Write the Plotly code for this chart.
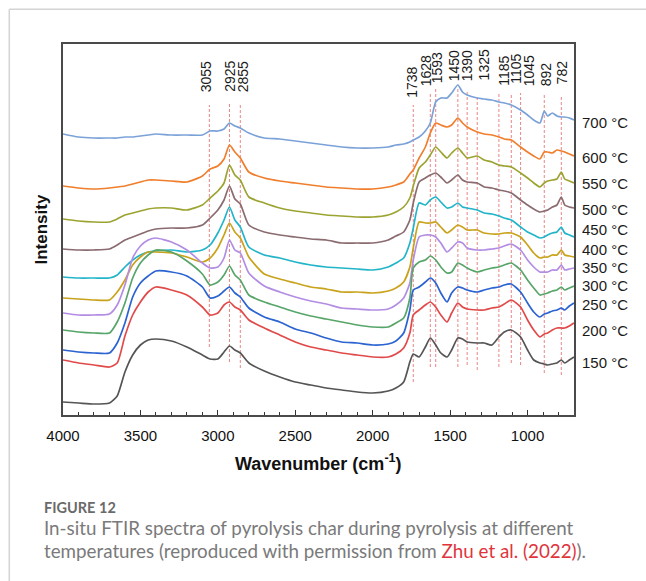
import plotly.graph_objects as go

# ---------------- data ----------------
wavenumber = [4000, 3900, 3800, 3700, 3650, 3600, 3550, 3500, 3450, 3400,
              3300, 3200, 3100, 3050, 3000, 2960, 2925, 2890, 2855, 2800,
              2700, 2600, 2500, 2400, 2300, 2200, 2100, 2000, 1900, 1850,
              1800, 1760, 1738, 1700, 1660, 1628, 1593, 1560, 1520, 1490,
              1450, 1420, 1390, 1325, 1280, 1230, 1185, 1150, 1105, 1045,
              1000, 960, 920, 892, 870, 840, 810, 782, 760, 730, 700]

temperature_labels = ["700 °C", "600 °C", "550 °C", "500 °C", "450 °C", "400 °C",
                      "350 °C", "300 °C", "250 °C", "200 °C", "150 °C"]

int_700 = [281, 278, 277, 277, 277, 278, 278, 279, 280, 281,
           280, 280, 280, 284, 284, 286, 292, 289, 287, 282,
           277, 276, 274, 272, 270, 268, 267, 267, 268, 270,
           271, 273, 275, 278, 284, 292, 313, 317, 317, 322,
           330, 323, 320, 317, 316, 315, 313, 312, 310, 305,
           300, 295, 292, 304, 299, 302, 299, 298, 298, 297, 295]
int_600 = [229, 227, 226, 227, 228, 229, 231, 233, 235, 235,
           234, 233, 239, 246, 249, 256, 270, 263, 257, 243,
           237, 234, 232, 230, 228, 227, 226, 226, 228, 230,
           233, 241, 245, 257, 268, 282, 292, 290, 288, 290,
           297, 292, 288, 283, 281, 280, 278, 276, 275, 268,
           263, 259, 256, 263, 263, 262, 265, 264, 263, 261, 259]
int_550 = [196, 194, 193, 193, 196, 200, 202, 204, 206, 207,
           207, 205, 210, 217, 224, 232, 250, 240, 235, 218,
           212, 207, 204, 202, 200, 199, 198, 198, 200, 203,
           208, 217, 229, 247, 253, 260, 268, 263, 257, 262,
           267, 262, 257, 259, 255, 253, 250, 249, 248, 242,
           237, 232, 228, 232, 234, 235, 236, 243, 236, 234, 232]
int_500 = [166, 165, 165, 166, 170, 175, 178, 181, 184, 186,
           187, 187, 190, 197, 205, 215, 229, 216, 211, 190,
           183, 180, 178, 176, 175, 172, 172, 172, 175, 179,
           183, 195, 212, 233, 237, 240, 242, 238, 232, 235,
           240, 235, 233, 232, 228, 227, 225, 224, 222, 215,
           210, 206, 203, 204, 205, 208, 210, 218, 210, 208, 207]
int_450 = [138, 137, 137, 137, 140, 148, 155, 160, 163, 164,
           165, 163, 165, 170, 182, 195, 208, 195, 188, 168,
           160, 157, 153, 150, 148, 147, 146, 145, 148, 152,
           157, 172, 187, 212, 210, 215, 218, 213, 207, 208,
           212, 208, 207, 205, 202, 201, 199, 197, 195, 188,
           183, 180, 177, 178, 180, 182, 183, 188, 182, 180, 178]
int_400 = [117, 116, 115, 115, 123, 135, 150, 158, 163, 163,
           162, 158, 153, 157, 167, 180, 192, 183, 177, 158,
           141, 136, 132, 128, 126, 123, 123, 122, 124, 127,
           133, 148, 167, 193, 192, 192, 193, 188, 182, 185,
           190, 188, 185, 185, 182, 181, 181, 182, 182, 178,
           170, 162, 157, 158, 158, 160, 160, 165, 160, 159, 158]
int_350 = [102, 100, 100, 101, 110, 130, 157, 169, 175, 177,
           173, 165, 152, 147, 148, 157, 175, 165, 162, 142,
           129, 123, 118, 114, 111, 107, 106, 105, 106, 110,
           117, 132, 155, 178, 180, 180, 178, 172, 163, 167,
           173, 172, 167, 165, 165, 166, 167, 169, 171, 165,
           155, 148, 143, 143, 143, 145, 145, 150, 145, 146, 147]
int_300 = [85, 83, 82, 82, 93, 112, 137, 152, 160, 165,
           163, 154, 141, 130, 133, 140, 149, 140, 135, 120,
           113, 108, 103, 99, 96, 93, 90, 88, 88, 92,
           97, 117, 147, 153, 155, 159, 155, 148, 142, 143,
           152, 150, 147, 143, 145, 147, 148, 150, 152, 145,
           135, 127, 120, 121, 122, 124, 125, 128, 125, 127, 129]
int_250 = [65, 63, 62, 62, 72, 92, 118, 132, 139, 144,
           143, 139, 128, 117, 119, 124, 128, 122, 118, 107,
           98, 93, 86, 82, 77, 73, 72, 70, 71, 74,
           82, 105, 125, 128, 133, 137, 132, 122, 113, 122,
           128, 127, 125, 123, 125, 127, 128, 130, 131, 123,
           112, 103, 98, 101, 102, 104, 105, 107, 105, 109, 112]
int_200 = [55, 52, 50, 48, 52, 79, 100, 113, 123, 128,
           125, 120, 108, 100, 102, 110, 113, 108, 105, 95,
           87, 80, 73, 68, 65, 62, 60, 58, 58, 61,
           67, 82, 100, 105, 110, 113, 108, 100, 93, 102,
           112, 108, 106, 105, 105, 107, 108, 111, 115, 108,
           95, 85, 78, 81, 82, 85, 87, 87, 87, 89, 92]
int_150 = [13, 12, 11, 12, 19, 43, 60, 70, 75, 76,
           74, 68, 60, 56, 56, 63, 69, 65, 62, 52,
           44, 38, 33, 30, 27, 25, 23, 22, 24, 27,
           33, 53, 61, 58, 68, 77, 70, 62, 58, 65,
           77, 76, 73, 72, 72, 70, 78, 83, 85, 78,
           65, 55, 52, 51, 50, 51, 52, 55, 52, 55, 58]

peak_wavenumbers = [3055, 2925, 2855, 1738, 1628, 1593, 1450, 1390, 1325, 1185, 1105, 1045, 892, 782]
peak_labels = ["3055", "2925", "2855", "1738", "1628", "1593", "1450", "1390",
               "1325", "1185", "1105", "1045", "892", "782"]

# ---------------- styling / placement (not data) ----------------
series = [int_700, int_600, int_550, int_500, int_450, int_400,
          int_350, int_300, int_250, int_200, int_150]
colors = ["#7ba2d8", "#f07e2c", "#9ca431", "#8a6b70", "#22b5c9", "#c9a31c",
          "#b28de3", "#58a56a", "#2b63d1", "#e14a4a", "#555555"]
temp_label_y = [293, 258, 232, 206, 186, 166, 148, 130, 111, 85, 53]
line_top = [310, 312, 310, 310, 323, 327, 327, 325, 320, 322, 322, 322, 322, 318]
line_bottom = [68, 53, 47, 33, 48, 48, 48, 50, 45, 48, 52, 50, 42, 40]
label_x = [3078, 2926, 2839, 1751, 1657, 1586, 1476, 1392, 1282, 1153, 1076, 992, 879, 775]
label_bottom = [321, 321, 321, 315, 327, 330, 332, 332, 333, 327, 329, 327, 327, 329]

FONT = "Liberation Sans, Arial, sans-serif"

fig = go.Figure()
for vals, col, name in zip(series, colors, temperature_labels):
    fig.add_trace(go.Scatter(x=wavenumber, y=vals, mode="lines", name=name,
                             line=dict(color=col, width=1.7, shape="spline", smoothing=0.6),
                             showlegend=False, hoverinfo="skip"))

shapes = []
for wn, t, b in zip(peak_wavenumbers, line_top, line_bottom):
    shapes.append(dict(type="line", xref="x", yref="y", x0=wn, x1=wn, y0=b, y1=t,
                       line=dict(color="#e98585", width=1, dash="3px,2px"), layer="below"))

# card border (light gray) around the figure
shapes.append(dict(type="line", xref="paper", yref="paper", x0=-0.1051, x1=1.2, y0=1.0935, y1=1.0935,
                   line=dict(color="#d4d4d4", width=1.5)))
shapes.append(dict(type="line", xref="paper", yref="paper", x0=-0.1051, x1=-0.1051, y0=-0.5, y1=1.0935,
                   line=dict(color="#d4d4d4", width=1.5)))

annotations = []
for lx, lb, txt in zip(label_x, label_bottom, peak_labels):
    annotations.append(dict(x=lx, y=lb, xref="x", yref="y", text=txt, textangle=-90,
                            showarrow=False, xanchor="center", yanchor="bottom",
                            font=dict(family=FONT, size=14, color="#1a1a1a")))
for ty, txt in zip(temp_label_y, temperature_labels):
    annotations.append(dict(x=1.0117, y=ty, xref="paper", yref="y", text=txt,
                            showarrow=False, xanchor="left", yanchor="middle",
                            font=dict(family=FONT, size=15, color="#1a1a1a")))

annotations.append(dict(x=0.5, y=-0.1267, xref="paper", yref="paper",
                        text="<b>Wavenumber (cm<sup>-1</sup>)</b>", showarrow=False,
                        xanchor="center", yanchor="middle",
                        font=dict(family=FONT, size=18, color="#111")))
annotations.append(dict(x=-0.0411, y=0.5, xref="paper", yref="paper",
                        text="<b>Intensity</b>", textangle=-90, showarrow=False,
                        xanchor="center", yanchor="middle",
                        font=dict(family=FONT, size=17, color="#111")))

CAP = "Lato, 'Open Sans', sans-serif"
annotations.append(dict(x=-0.0417, y=-0.248, xref="paper", yref="paper",
                        text="<b>FIGURE 12</b>", showarrow=False, xanchor="left", yanchor="middle",
                        font=dict(family=CAP, size=14.5, color="#6a6a6a")))
annotations.append(dict(x=-0.0417, y=-0.3019, xref="paper", yref="paper",
                        text="In-situ FTIR spectra of pyrolysis char during pyrolysis at different",
                        showarrow=False, xanchor="left", yanchor="middle",
                        font=dict(family=CAP, size=18.8, color="#7a7a7a")))
annotations.append(dict(x=-0.0417, y=-0.3639, xref="paper", yref="paper",
                        text="temperatures (reproduced with permission from "
                             "<span style='color:#e0343c'>Zhu et al. (2022)</span>).",
                        showarrow=False, xanchor="left", yanchor="middle",
                        font=dict(family=CAP, size=18.8, color="#7a7a7a")))

fig.update_layout(
    width=646, height=581,
    margin=dict(l=63, r=72, t=44, b=166),
    paper_bgcolor="white", plot_bgcolor="white",
    shapes=shapes, annotations=annotations,
    xaxis=dict(range=[4000, 700], tickvals=[4000, 3500, 3000, 2500, 2000, 1500, 1000],
               ticks="inside", ticklen=5, tickwidth=1.2, tickcolor="#333",
               minor=dict(dtick=100, tick0=0, ticks="inside", ticklen=3, tickcolor="#333"),
               showline=True, linecolor="#4a4a4a", linewidth=1.6, mirror=True,
               showgrid=False, zeroline=False, ticklabelstandoff=6,
               tickfont=dict(family=FONT, size=15, color="#111")),
    yaxis=dict(range=[0, 371], showticklabels=False, ticks="", showgrid=False, zeroline=False,
               showline=True, linecolor="#4a4a4a", linewidth=1.6, mirror=True),
)

fig.write_html("out.html")
